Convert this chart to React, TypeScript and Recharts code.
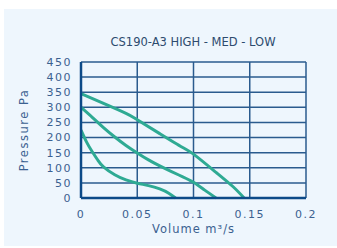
import React from 'react';
import { LineChart, Line, XAxis, YAxis, CartesianGrid, Label } from 'recharts';

const highCurve = [
  { v: 0, p: 345 }, { v: 0.02, p: 313 }, { v: 0.04, p: 280 }, { v: 0.05, p: 259 },
  { v: 0.07, p: 213 }, { v: 0.09, p: 168 }, { v: 0.1, p: 145 }, { v: 0.12, p: 85 },
  { v: 0.135, p: 38 }, { v: 0.145, p: 0 },
];
const medCurve = [
  { v: 0, p: 300 }, { v: 0.01, p: 267 }, { v: 0.02, p: 233 }, { v: 0.03, p: 202 },
  { v: 0.04, p: 174 }, { v: 0.05, p: 149 }, { v: 0.06, p: 126 }, { v: 0.07, p: 106 },
  { v: 0.08, p: 88 }, { v: 0.09, p: 71 }, { v: 0.1, p: 52 }, { v: 0.11, p: 26 }, { v: 0.12, p: 0 },
];
const lowCurve = [
  { v: 0, p: 225 }, { v: 0.005, p: 185 }, { v: 0.01, p: 153 }, { v: 0.015, p: 125 },
  { v: 0.02, p: 103 }, { v: 0.03, p: 77 }, { v: 0.04, p: 60 }, { v: 0.05, p: 49 },
  { v: 0.06, p: 41 }, { v: 0.07, p: 30 }, { v: 0.078, p: 16 }, { v: 0.084, p: 0 },
];
const xTicks = [0, 0.05, 0.1, 0.15, 0.2];
const yTicks = [0, 50, 100, 150, 200, 250, 300, 350, 400, 450];

const title = 'CS190-A3 HIGH - MED - LOW';
const xLabel = 'Volume m³/s';
const yLabel = 'Pressure Pa';

const curveColor = '#2eaa93';
const gridColor = '#2a5b8e';
const axisColor = '#0c4a88';
const textColor = '#3b6190';
const font = '"DejaVu Sans", sans-serif';

export default function App() {
  const tickStyle = { fill: textColor, fontSize: 11, fontFamily: font, letterSpacing: 1.5 };
  return (
    <div style={{ position: 'absolute', left: 4, top: 9, width: 333, height: 237, background: '#eef6fd' }}>
      <div style={{ position: 'absolute', left: 0, top: 26, width: 378, textAlign: 'center', fontFamily: font, fontSize: 11.5, lineHeight: '14px', color: '#2d4b6e' }}>
        {title}
      </div>
      <LineChart width={333} height={237} margin={{ top: 53, right: 31, bottom: 18, left: 0 }}>
        <CartesianGrid stroke={gridColor} strokeWidth={1.5} horizontalValues={yTicks} verticalValues={xTicks} />
        <XAxis
          type="number"
          dataKey="v"
          domain={[0, 0.2]}
          ticks={xTicks}
          allowDataOverflow
          height={30}
          stroke={axisColor}
          strokeWidth={2.5}
          tickLine={false}
          tick={tickStyle}
          tickMargin={6}
        >
          <Label value={xLabel} position="insideBottom" offset={-5} style={{ fill: textColor, fontSize: 11.5, fontFamily: font, letterSpacing: 1 }} />
        </XAxis>
        <YAxis
          type="number"
          dataKey="p"
          domain={[0, 450]}
          ticks={yTicks}
          width={77}
          stroke={axisColor}
          strokeWidth={2.5}
          tickLine={false}
          tick={tickStyle}
          tickMargin={3}
          interval={0}
        >
          <Label value={yLabel} angle={-90} position="insideLeft" offset={20} style={{ fill: textColor, fontSize: 11.5, fontFamily: font, letterSpacing: 1.5, textAnchor: 'middle' }} />
        </YAxis>
        <Line data={highCurve} dataKey="p" type="natural" stroke={curveColor} strokeWidth={3} dot={false} isAnimationActive={false} />
        <Line data={medCurve} dataKey="p" type="natural" stroke={curveColor} strokeWidth={3} dot={false} isAnimationActive={false} />
        <Line data={lowCurve} dataKey="p" type="natural" stroke={curveColor} strokeWidth={3} dot={false} isAnimationActive={false} />
      </LineChart>
    </div>
  );
}
